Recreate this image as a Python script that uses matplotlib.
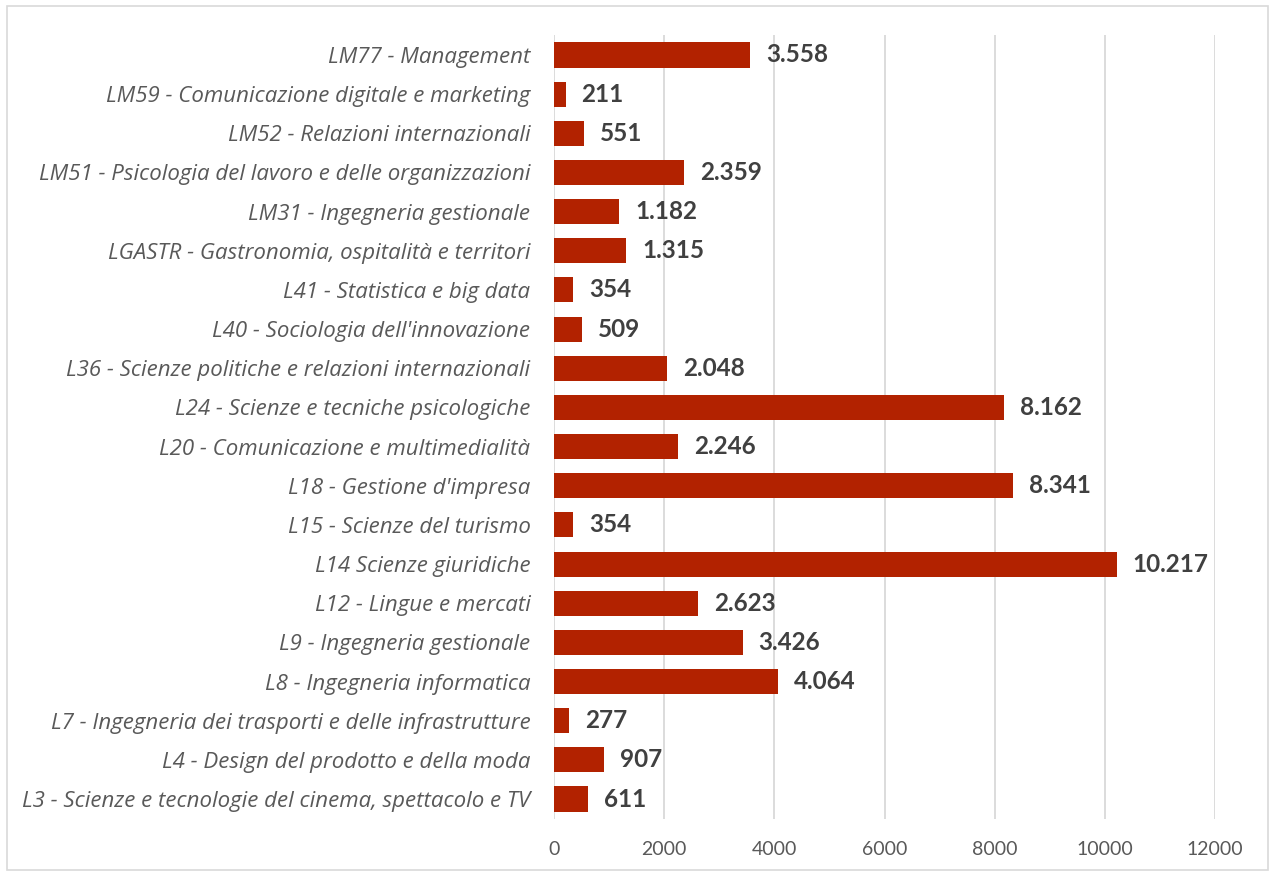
import matplotlib
matplotlib.use("Agg")
import matplotlib.pyplot as plt
from matplotlib.patches import Rectangle

corsi = [
    "L3 - Scienze e tecnologie del cinema, spettacolo e TV",
    "L4 - Design del prodotto e della moda",
    "L7 - Ingegneria dei trasporti e delle infrastrutture",
    "L8 - Ingegneria informatica",
    "L9 - Ingegneria gestionale",
    "L12 - Lingue e mercati",
    "L14 Scienze giuridiche",
    "L15 - Scienze del turismo",
    "L18 - Gestione d'impresa",
    "L20 - Comunicazione e multimedialità",
    "L24 - Scienze e tecniche psicologiche",
    "L36 - Scienze politiche e relazioni internazionali",
    "L40 - Sociologia dell'innovazione",
    "L41 - Statistica e big data",
    "LGASTR - Gastronomia, ospitalità e territori",
    "LM31 - Ingegneria gestionale",
    "LM51 - Psicologia del lavoro e delle organizzazioni",
    "LM52 - Relazioni internazionali",
    "LM59 - Comunicazione digitale e marketing",
    "LM77 - Management",
]
valori = [611, 907, 277, 4064, 3426, 2623, 10217, 354, 8341, 2246,
          8162, 2048, 509, 354, 1315, 1182, 2359, 551, 211, 3558]
xticks = [0, 2000, 4000, 6000, 8000, 10000, 12000]

plt.rcParams['font.family'] = ['Lato', 'DejaVu Sans']

fig = plt.figure(figsize=(12.76, 8.76), dpi=100)
ax = fig.add_axes([554/1276, 1 - 818.6/876, (1215-554)/1276, (818.6-35.4)/876])

y = range(len(corsi))
ax.barh(y, valori, height=0.64, color='#B22200', zorder=3)

for i, v in enumerate(valori):
    testo = f"{v:,}".replace(",", ".")
    ax.text(v + 290, i, testo, va='center', ha='left', fontsize=17.5,
            fontweight='bold', color='#404040')

ax.set_xlim(0, 12000)
ax.set_ylim(-0.5, len(corsi) - 0.5)
ax.set_xticks(xticks)
ax.set_xticklabels([str(t) for t in xticks], fontsize=14, color='#595959')
ax.set_yticks(list(y))
ax.set_yticklabels(corsi, fontsize=16, style='italic', color='#595959',
                   family=['Open Sans', 'DejaVu Sans'])
ax.tick_params(axis='both', length=0)
ax.tick_params(axis='y', pad=17)
ax.tick_params(axis='x', pad=16)
ax.grid(axis='x', color='#D9D9D9', linewidth=1.3, zorder=0)
for s in ax.spines.values():
    s.set_visible(False)

fig.patches.append(Rectangle((7/1276, 6/876), 1261/1276, 864/876,
                             transform=fig.transFigure, fill=False,
                             edgecolor='#D9D9D9', linewidth=1.2))

fig.savefig("out.png", dpi=100)
